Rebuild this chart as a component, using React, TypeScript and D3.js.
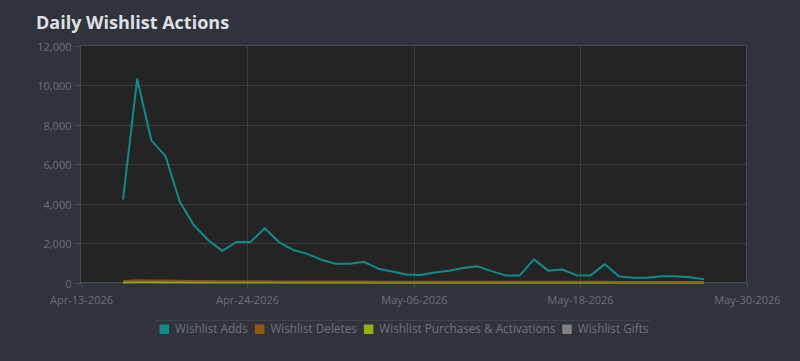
import React, { useEffect, useRef } from "react";
import * as d3 from "d3";

// Daily wishlist activity, one entry per day
const dates: string[] = [
  "2026-04-16", "2026-04-17", "2026-04-18", "2026-04-19", "2026-04-20", "2026-04-21",
  "2026-04-22", "2026-04-23", "2026-04-24", "2026-04-25", "2026-04-26", "2026-04-27",
  "2026-04-28", "2026-04-29", "2026-04-30", "2026-05-01", "2026-05-02", "2026-05-03",
  "2026-05-04", "2026-05-05", "2026-05-06", "2026-05-07", "2026-05-08", "2026-05-09",
  "2026-05-10", "2026-05-11", "2026-05-12", "2026-05-13", "2026-05-14", "2026-05-15",
  "2026-05-16", "2026-05-17", "2026-05-18", "2026-05-19", "2026-05-20", "2026-05-21",
  "2026-05-22", "2026-05-23", "2026-05-24", "2026-05-25", "2026-05-26", "2026-05-27",
];

const wishlistAdds: number[] = [
  4200, 10300, 7200, 6400, 4100, 2900, 2150, 1600, 2050, 2050, 2750, 2050,
  1650, 1450, 1150, 950, 950, 1050, 700, 560, 400, 380, 510, 600,
  730, 820, 575, 360, 360, 1170, 600, 660, 370, 360, 930, 310,
  240, 240, 320, 320, 270, 170,
];

const wishlistDeletes: number[] = [
  80, 110, 100, 95, 85, 75, 70, 65, 65, 60, 60, 55,
  55, 50, 50, 45, 45, 45, 40, 40, 40, 40, 40, 40,
  40, 40, 40, 35, 35, 40, 35, 35, 35, 35, 35, 30,
  30, 30, 30, 30, 30, 30,
];

const wishlistPurchases: number[] = [
  10, 25, 20, 15, 12, 10, 8, 8, 8, 8, 10, 8,
  6, 6, 5, 5, 5, 5, 4, 4, 4, 4, 4, 4,
  4, 4, 4, 3, 3, 5, 4, 4, 3, 3, 4, 3,
  3, 3, 3, 3, 3, 3,
];

const wishlistGifts: number[] = [
  0, 2, 1, 1, 1, 0, 0, 0, 1, 0, 0, 0,
  0, 0, 0, 0, 0, 0, 0, 0, 0, 0, 0, 0,
  0, 0, 0, 0, 0, 0, 0, 0, 0, 0, 0, 0,
  0, 0, 0, 0, 0, 0,
];

const seriesNames: string[] = [
  "Wishlist Adds",
  "Wishlist Deletes",
  "Wishlist Purchases & Activations",
  "Wishlist Gifts",
];
const seriesColors: string[] = ["#0e8c8c", "#8f5a0c", "#8fb40c", "#808080"];

const yTicks: number[] = [0, 2000, 4000, 6000, 8000, 10000, 12000];
const xTickLabels: string[] = [
  "Apr-13-2026", "Apr-24-2026", "May-06-2026", "May-18-2026", "May-30-2026",
];

const chartTitle = "Daily Wishlist Actions";

const W = 800;
const H = 361;
const FONT = "'Open Sans', 'DejaVu Sans', sans-serif";

export default function App() {
  const ref = useRef<SVGSVGElement | null>(null);

  useEffect(() => {
    const svg = d3.select(ref.current);
    svg.selectAll("*").remove();

    const parse = d3.utcParse("%Y-%m-%d");
    const days = dates.map((d) => parse(d) as Date);
    const start = parse("2026-04-13") as Date;
    const end = parse("2026-05-30") as Date;

    const left = 80.5;
    const right = 746.5;
    const top = 45.5;
    const bottom = 282.5;

    const x = d3.scaleUtc().domain([start, end]).range([left, right]);
    const y = d3.scaleLinear().domain([0, 12000]).range([bottom, top]);

    svg.append("rect").attr("width", W).attr("height", H).attr("fill", "#30333b");

    svg
      .append("text")
      .attr("x", 36)
      .attr("y", 29)
      .attr("fill", "#dde0e3")
      .attr("font-family", FONT)
      .attr("font-weight", 700)
      .attr("font-size", 18)
      .text(chartTitle);

    // plot background
    svg
      .append("rect")
      .attr("x", left)
      .attr("y", top)
      .attr("width", right - left)
      .attr("height", bottom - top)
      .attr("fill", "#242424");

    // x ticks evenly spread over the date span
    const span = end.getTime() - start.getTime();
    const xTicks = xTickLabels.map(
      (_, i) => new Date(start.getTime() + (span * i) / (xTickLabels.length - 1))
    );

    const grid = svg.append("g").attr("stroke", "#3d3d3d").attr("stroke-width", 1);
    yTicks.slice(1, -1).forEach((t) => {
      const yy = Math.round(y(t)) + 0.5;
      grid.append("line").attr("x1", left).attr("x2", right).attr("y1", yy).attr("y2", yy);
    });
    xTicks.slice(1, -1).forEach((t) => {
      const xx = Math.round(x(t)) + 0.5;
      grid.append("line").attr("x1", xx).attr("x2", xx).attr("y1", top).attr("y2", bottom);
    });

    // frame
    svg
      .append("rect")
      .attr("x", left)
      .attr("y", top)
      .attr("width", right - left)
      .attr("height", bottom - top)
      .attr("fill", "none")
      .attr("stroke", "#46494e");

    // y axis ticks and labels
    const yAx = svg.append("g");
    yTicks.forEach((t) => {
      const yy = Math.round(y(t)) + 0.5;
      yAx
        .append("line")
        .attr("x1", left - 5)
        .attr("x2", left)
        .attr("y1", yy)
        .attr("y2", yy)
        .attr("stroke", "#4a4d52");
      yAx
        .append("text")
        .attr("x", left - 9)
        .attr("y", yy + 4)
        .attr("text-anchor", "end")
        .attr("fill", "#6c7077")
        .attr("font-family", FONT)
        .attr("font-size", 11)
        .text(d3.format(",")(t));
    });

    // x axis ticks and labels
    const xAx = svg.append("g");
    xTicks.forEach((t, i) => {
      const xx = Math.round(x(t)) + 0.5;
      xAx
        .append("line")
        .attr("x1", xx)
        .attr("x2", xx)
        .attr("y1", bottom)
        .attr("y2", bottom + 5)
        .attr("stroke", "#4a4d52");
      xAx
        .append("text")
        .attr("x", xx)
        .attr("y", bottom + 21)
        .attr("text-anchor", "middle")
        .attr("fill", "#6c7077")
        .attr("font-family", FONT)
        .attr("font-size", 11)
        .text(xTickLabels[i]);
    });

    // series lines, drawn back to front
    const allSeries = [wishlistAdds, wishlistDeletes, wishlistPurchases, wishlistGifts];
    const line = d3
      .line<number>()
      .x((_, i) => x(days[i]))
      .y((v) => y(v));

    const lines = svg.append("g").attr("fill", "none");
    [3, 2, 1, 0].forEach((k) => {
      lines
        .append("path")
        .attr("d", line(allSeries[k]) as string)
        .attr("stroke", seriesColors[k])
        .attr("stroke-width", 2)
        .attr("stroke-linejoin", "round")
        .attr("stroke-opacity", k === 0 ? 1 : 0.85);
    });

    // legend
    const legendY = 333;
    svg
      .append("line")
      .attr("x1", 157)
      .attr("x2", 651)
      .attr("y1", 320.5)
      .attr("y2", 320.5)
      .attr("stroke", "#3e4147");

    const lg = svg.append("g");
    let cx = 0;
    const items: { g: d3.Selection<SVGGElement, unknown, null, undefined>; w: number }[] = [];
    seriesNames.forEach((name, k) => {
      const g = lg.append("g");
      g.append("rect")
        .attr("x", 0)
        .attr("y", legendY - 8.5)
        .attr("width", 9.5)
        .attr("height", 9.5)
        .attr("fill", seriesColors[k]);
      const tx = g
        .append("text")
        .attr("x", 15.5)
        .attr("y", legendY)
        .attr("fill", "#6f7379")
        .attr("font-family", FONT)
        .attr("font-size", 11.75)
        .text(name);
      const tw = (tx.node() as SVGTextElement).getComputedTextLength();
      items.push({ g, w: 15.5 + tw });
    });
    const gap = 7;
    const total = items.reduce((s, it) => s + it.w, 0) + gap * (items.length - 1);
    cx = 404 - total / 2;
    items.forEach((it) => {
      it.g.attr("transform", `translate(${cx},0)`);
      cx += it.w + gap;
    });
  }, []);

  return (
    <svg
      ref={ref}
      width={W}
      height={H}
      style={{ display: "block", position: "absolute", left: 0, top: 0 }}
    />
  );
}
